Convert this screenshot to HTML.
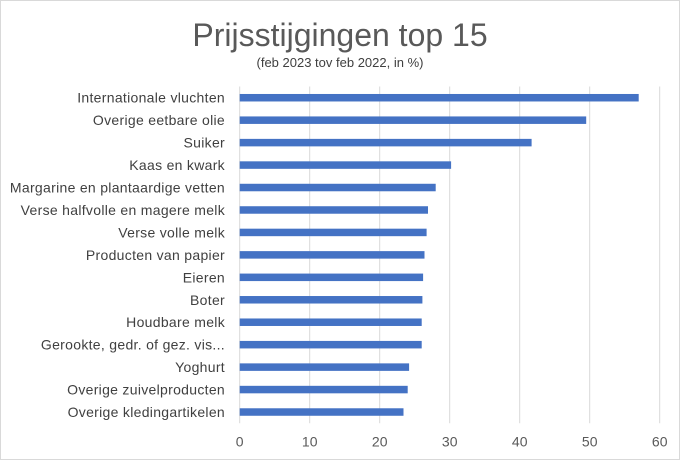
<!DOCTYPE html>
<html><head><meta charset="utf-8"><style>
body{margin:0;background:#fff;}
svg{display:block;font-family:"Liberation Sans",Calibri,sans-serif;}
</style></head><body>
<svg id="chart" width="680" height="460">
<rect x="0.5" y="0.5" width="679" height="459" fill="#fff" stroke="#d9d9d9"/>
<text x="340" y="46" text-anchor="middle" font-size="32" fill="#595959">Prijsstijgingen top 15</text>
<text x="340" y="67" text-anchor="middle" font-size="13" fill="#404040">(feb 2023 tov feb 2022, in %)</text>
<g id="grid"></g><g id="bars"></g><g id="labels"></g><g id="ticks"></g>
</svg>
<script>
const categories=["Internationale vluchten","Overige eetbare olie","Suiker","Kaas en kwark","Margarine en plantaardige vetten","Verse halfvolle en magere melk","Verse volle melk","Producten van papier","Eieren","Boter","Houdbare melk","Gerookte, gedr. of gez. vis...","Yoghurt","Overige zuivelproducten","Overige kledingartikelen"];
const values=[57.0,49.5,41.7,30.2,28.0,26.9,26.7,26.4,26.2,26.1,26.0,26.0,24.2,24.0,23.4];
const tickValues=[0,10,20,30,40,50,60];
const NS="http://www.w3.org/2000/svg";
const x0=239.7,xMax=60,plotW=420,plotTop=86.5,band=22.45,barH=7.5;
const xs=v=>x0+v/xMax*plotW;
const ys=i=>plotTop+band*i+band/2;
const plotBottom=plotTop+band*categories.length;
function mk(t,a,p){const e=document.createElementNS(NS,t);for(const k in a)e.setAttribute(k,a[k]);p.appendChild(e);return e;}
const g=document.getElementById('grid'),b=document.getElementById('bars'),l=document.getElementById('labels'),tk=document.getElementById('ticks');
tickValues.forEach(v=>{
 const ln=mk('line',{x1:xs(v),x2:xs(v),y1:plotTop,y2:plotBottom,stroke:'#d9d9d9','stroke-width':1},g);
 
 
 const t=mk('text',{x:xs(v),y:plotBottom+23,'text-anchor':'middle','font-size':14,fill:'#595959'},tk);
 t.textContent=v;
 
 
});
categories.forEach((c,i)=>{
 const r=mk('rect',{x:xs(0),y:ys(i)-barH/2,width:xs(values[i])-xs(0),height:barH,fill:'#4472c4'},b);
 
 
 const t=mk('text',{x:225,y:ys(i)+5,'text-anchor':'end','font-size':14,'letter-spacing':0.3,fill:'#404040'},l);
 t.textContent=c;
 
 
});
</script>
</body></html>
